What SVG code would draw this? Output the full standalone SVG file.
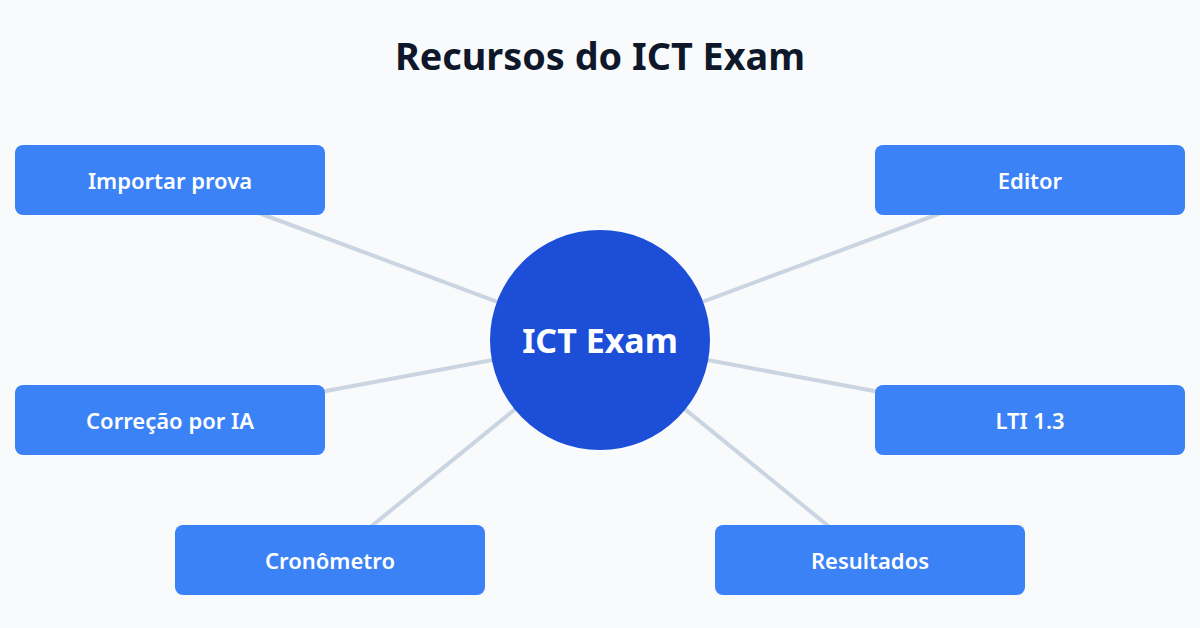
<svg xmlns="http://www.w3.org/2000/svg" width="1200" height="628" viewBox="0 0 1200 628">
<style>
.bg{fill:#f8fafc}
.title{font-family:"Noto Sans","Open Sans","Liberation Sans",sans-serif;font-weight:700;font-size:37.8px;fill:#0f172a;text-anchor:middle}
.box{fill:#3b82f6}
.lbl{font-family:"Noto Sans","Open Sans","Liberation Sans",sans-serif;font-weight:600;font-size:22px;fill:#ffffff;text-anchor:middle;dominant-baseline:central}
.hub{fill:#1d4ed8}
.hublbl{font-family:"Noto Sans","Open Sans","Liberation Sans",sans-serif;font-weight:700;font-size:34px;fill:#ffffff;text-anchor:middle;dominant-baseline:central}
.conn{stroke:#cbd5e1;stroke-width:4;fill:none}
</style>
<rect class="bg" x="0" y="0" width="1200" height="628"/>
<text class="title" x="600" y="70">Recursos do ICT Exam</text>
<g id="connectors">
<line class="conn" x1="170" y1="180" x2="600" y2="340"/>
<line class="conn" x1="1030" y1="180" x2="600" y2="340"/>
<line class="conn" x1="170" y1="420" x2="600" y2="340"/>
<line class="conn" x1="1030" y1="420" x2="600" y2="340"/>
<line class="conn" x1="330" y1="560" x2="600" y2="340"/>
<line class="conn" x1="870" y1="560" x2="600" y2="340"/>
</g>
<g id="node-importar">
<rect class="box" x="15" y="145" width="310" height="70" rx="8"/>
<text class="lbl" x="170" y="180">Importar prova</text>
</g>
<g id="node-editor">
<rect class="box" x="875" y="145" width="310" height="70" rx="8"/>
<text class="lbl" x="1030" y="180">Editor</text>
</g>
<g id="node-correcao">
<rect class="box" x="15" y="385" width="310" height="70" rx="8"/>
<text class="lbl" x="170" y="420">Correção por IA</text>
</g>
<g id="node-lti">
<rect class="box" x="875" y="385" width="310" height="70" rx="8"/>
<text class="lbl" x="1030" y="420">LTI 1.3</text>
</g>
<g id="node-cronometro">
<rect class="box" x="175" y="525" width="310" height="70" rx="8"/>
<text class="lbl" x="330" y="560">Cronômetro</text>
</g>
<g id="node-resultados">
<rect class="box" x="715" y="525" width="310" height="70" rx="8"/>
<text class="lbl" x="870" y="560">Resultados</text>
</g>
<g id="node-hub">
<circle class="hub" cx="600" cy="340" r="110"/>
<text class="hublbl" x="600" y="340">ICT Exam</text>
</g>
</svg>
